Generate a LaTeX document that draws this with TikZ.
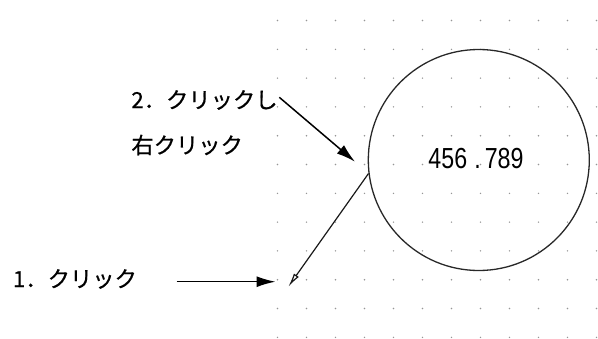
\documentclass[tikz,border=0pt]{standalone}
\usepackage{fontspec}
\newfontfamily\jp[FakeBold=0.6]{Noto Sans CJK JP}
\newfontfamily\numfont{Liberation Sans}
\usetikzlibrary{arrows.meta}
\definecolor{dotgray}{RGB}{150,150,150}
\definecolor{circline}{RGB}{40,40,40}
\tikzset{
  lbl/.style={font=\jp\fontsize{22.3}{24}\selectfont, anchor=west, inner sep=0pt},
  arr/.style={-{Latex[length=19pt,width=11pt]}, line width=1.5pt, black},
  leader/.style={-{Latex[open,length=14pt,width=6pt]}, line width=1.2pt, draw=black!90},
}
\begin{document}
\begin{tikzpicture}[x=1pt,y=-1pt]
\useasboundingbox (0,0) rectangle (598,338);
\foreach \i in {0,...,11}{
  \foreach \j in {0,...,11}{
    \fill[dotgray] (277.5+29*\i, 20.5+28.8*\j) circle (0.8pt);
  }
}
\node[draw=circline, line width=1.3pt, circle, minimum size=221pt, inner sep=0pt] (circ) at (478.8,160) {};
\node[font=\numfont\fontsize{29}{30}\selectfont, xscale=0.8, inner sep=0pt] (val) at (476,158.5) {456\kern9pt.\kern5pt789};
\node[lbl] (t2) at (131.2,100) {2．クリックし};
\node[lbl] (t3) at (131.2,145) {右クリック};
\node[lbl] (t1) at (12.8,279) {1．クリック};
\coordinate (ldr) at (288.3,286.7);
\coordinate (a2s) at (279.3,97.3);
\coordinate (a2e) at (355,161.7);
\coordinate (a1s) at (176.7,281.7);
\coordinate (a1e) at (275.5,281.7);
\draw[leader] (circ.187) -- (ldr);
\draw[arr] (a2s) -- (a2e);
\draw[arr] (a1s) -- (a1e);
\end{tikzpicture}
\end{document}
